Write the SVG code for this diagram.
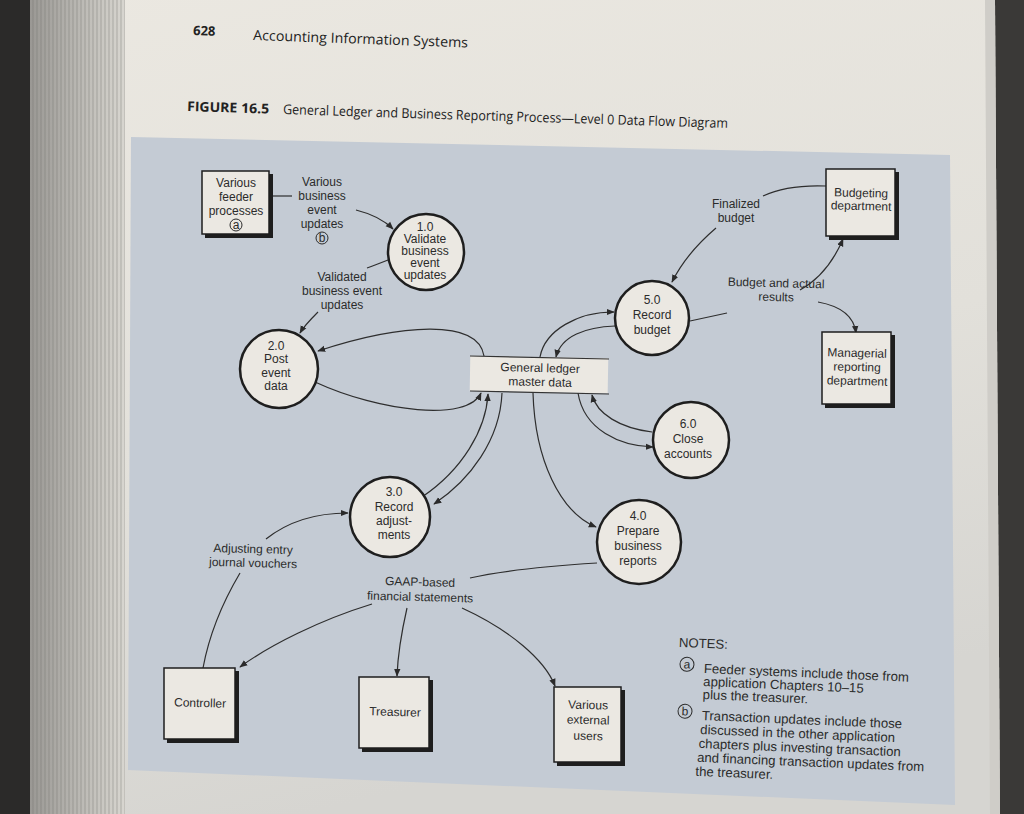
<svg xmlns="http://www.w3.org/2000/svg" width="1024" height="814" viewBox="0 0 1024 814">
<defs>
<linearGradient id="page" x1="0" y1="0" x2="0.3" y2="1">
<stop offset="0" stop-color="#ebe8e1"/>
<stop offset="0.6" stop-color="#e2e0da"/>
<stop offset="1" stop-color="#d6d5d1"/>
</linearGradient>
<linearGradient id="edges" x1="0" y1="0" x2="1" y2="0">
<stop offset="0" stop-color="#9a9894"/>
<stop offset="1" stop-color="#d8d6d0"/>
</linearGradient>
<pattern id="stack" width="4" height="10" patternUnits="userSpaceOnUse">
<rect width="4" height="10" fill="none"/>
<line x1="1" y1="0" x2="1" y2="10" stroke="#6d6b68" stroke-width="0.8" opacity="0.5"/>
</pattern>
<marker id="ah" viewBox="0 0 10 10" refX="9" refY="5" markerWidth="8" markerHeight="8" markerUnits="userSpaceOnUse" orient="auto">
<path d="M0,1 L10,5 L0,9 z" fill="#2a2a2a"/>
</marker>
</defs>
<style>
.t{font-family:"Liberation Sans",Arial,sans-serif;font-size:12px;fill:#2b2b2b;text-anchor:middle}
.h{font-family:"Open Sans","Noto Sans",sans-serif;fill:#222}
.n{font-family:"Liberation Sans",Arial,sans-serif;font-size:13.2px;fill:#2b2b2b}
.proc{fill:#ebe8e2;stroke:#1e1e1e;stroke-width:2.5}
.box{fill:#ebe8e2;stroke:#1e1e1e;stroke-width:1.5}
.shadow{fill:#1e1e1e}
.c{fill:none;stroke:#2e2e2e;stroke-width:1.2}
.ca{fill:none;stroke:#2e2e2e;stroke-width:1.2;marker-end:url(#ah)}
.circ{fill:none;stroke:#2b2b2b;stroke-width:1}
</style>

<!-- page background -->
<rect width="1024" height="814" fill="url(#page)"/>
<rect x="0" y="0" width="30" height="814" fill="#2b2a29"/>
<rect x="30" y="0" width="95" height="814" fill="url(#edges)"/>
<rect x="30" y="0" width="95" height="814" fill="url(#stack)"/>
<polygon points="995,0 1024,0 1024,814 1000,814" fill="#3a3937"/>
<polygon points="985,0 995,0 1000,814 990,814" fill="#cfcdc8"/>

<!-- header -->
<text class="h" x="193" y="35" font-size="13" font-weight="bold" transform="rotate(2 193 35)">628</text>
<text class="h" x="253" y="40" font-size="14" textLength="215" lengthAdjust="spacingAndGlyphs" transform="rotate(2 253 40)">Accounting Information Systems</text>
<text class="h" x="187" y="111" font-size="13.5" font-weight="bold" textLength="82" lengthAdjust="spacingAndGlyphs" transform="rotate(1.8 187 111)">FIGURE 16.5</text>
<text class="h" x="283" y="114" font-size="13.5" textLength="445" lengthAdjust="spacingAndGlyphs" transform="rotate(1.8 283 114)">General Ledger and Business Reporting Process—Level 0 Data Flow Diagram</text>

<!-- panel -->
<polygon points="131,137 950,155 955,805 128,770" fill="#c4cbd4"/>

<!-- connectors -->
<g id="connectors">
<path class="c" d="M270,196 L292,196"/>
<path class="ca" d="M356,210 C372,214 384,220 393,229"/>
<path class="c" d="M388,260 C380,263 373,266 367,268"/>
<path class="ca" d="M318,312 C310,320 304,326 300,333"/>
<path class="ca" d="M484,356 C478,318 400,324 318,351"/>
<path class="ca" d="M315,382 C380,412 468,422 481,393"/>
<path class="ca" d="M540,357 C545,330 578,312 614,312"/>
<path class="ca" d="M615,326 C586,327 561,336 556,357"/>
<path class="c" d="M826,186 C800,185 780,188 763,196"/>
<path class="ca" d="M716,228 C696,245 682,262 672,282"/>
<path class="c" d="M690,321 L727,313"/>
<path class="ca" d="M800,290 C818,280 832,265 843,239"/>
<path class="ca" d="M818,302 C840,306 854,316 856,333"/>
<path class="ca" d="M578,393 C584,430 620,446 653,447"/>
<path class="ca" d="M652,432 C620,428 597,414 592,395"/>
<path class="ca" d="M422,497 C462,470 486,430 488,394"/>
<path class="ca" d="M502,393 C500,440 470,480 434,504"/>
<path class="ca" d="M533,393 C535,460 560,512 596,527"/>
<path class="ca" d="M266,539 C290,520 318,513 348,513"/>
<path class="c" d="M203,668 C210,630 224,600 240,573"/>
<path class="c" d="M597,563 C550,566 500,571 470,578"/>
<path class="ca" d="M372,604 C320,620 270,645 240,667"/>
<path class="ca" d="M407,608 C402,630 398,650 397,676"/>
<path class="ca" d="M462,608 C510,630 545,660 555,686"/>
</g>

<!-- external entities -->
<g id="feeder">
<rect class="shadow" x="205" y="174" width="68" height="64"/>
<rect class="box" x="202" y="171" width="67" height="63"/>
<text class="t" x="236" y="187">Various</text>
<text class="t" x="236" y="201">feeder</text>
<text class="t" x="236" y="215">processes</text>
<circle class="circ" cx="236" cy="225" r="6"/>
<text class="t" x="236" y="229" font-size="10">a</text>
</g>
<g id="budgeting">
<rect class="shadow" x="829" y="172" width="70" height="68"/>
<rect class="box" x="826" y="169" width="69" height="67"/>
<text class="t" x="861" y="197" transform="rotate(1.5 861 197)">Budgeting</text>
<text class="t" x="861" y="210" transform="rotate(1.5 861 210)">department</text>
</g>
<g id="managerial">
<rect class="shadow" x="825" y="335" width="70" height="73"/>
<rect class="box" x="822" y="332" width="69" height="72"/>
<text class="t" x="857" y="357" transform="rotate(1.5 857 357)">Managerial</text>
<text class="t" x="857" y="371" transform="rotate(1.5 857 371)">reporting</text>
<text class="t" x="857" y="385" transform="rotate(1.5 857 385)">department</text>
</g>
<g id="controller">
<rect class="shadow" x="167" y="671" width="72" height="72"/>
<rect class="box" x="164" y="668" width="71" height="71"/>
<text class="t" x="200" y="707" transform="rotate(1.5 200 707)">Controller</text>
</g>
<g id="treasurer">
<rect class="shadow" x="362" y="680" width="71" height="72"/>
<rect class="box" x="359" y="677" width="70" height="71"/>
<text class="t" x="395" y="716" transform="rotate(1.5 395 716)">Treasurer</text>
</g>
<g id="external">
<rect class="shadow" x="557" y="690" width="68" height="76"/>
<rect class="box" x="554" y="687" width="67" height="75"/>
<text class="t" x="588" y="709" transform="rotate(1.5 588 709)">Various</text>
<text class="t" x="588" y="724" transform="rotate(1.5 588 724)">external</text>
<text class="t" x="588" y="740" transform="rotate(1.5 588 740)">users</text>
</g>

<!-- data store -->
<g id="gl">
<rect x="470" y="357" width="138" height="35" fill="#ebe8e2" transform="rotate(1 539 374)"/>
<line x1="470" y1="356" x2="609" y2="359" stroke="#333" stroke-width="1.2"/>
<line x1="470" y1="391" x2="609" y2="394" stroke="#333" stroke-width="1.2"/>
<text class="t" x="540" y="372" transform="rotate(1.5 540 372)">General ledger</text>
<text class="t" x="540" y="386" transform="rotate(1.5 540 386)">master data</text>
</g>

<!-- processes -->
<g id="p1">
<circle class="proc" cx="426" cy="252" r="38"/>
<text class="t" x="425" y="231" font-size="11">1.0</text>
<text class="t" x="425" y="243" font-size="11">Validate</text>
<text class="t" x="425" y="255" font-size="11">business</text>
<text class="t" x="425" y="267" font-size="11">event</text>
<text class="t" x="425" y="279" font-size="11">updates</text>
</g>
<g id="p2">
<circle class="proc" cx="279" cy="369" r="39"/>
<text class="t" x="276" y="350">2.0</text>
<text class="t" x="276" y="363">Post</text>
<text class="t" x="276" y="377">event</text>
<text class="t" x="276" y="390">data</text>
</g>
<g id="p3">
<circle class="proc" cx="390" cy="517" r="40"/>
<text class="t" x="394" y="496">3.0</text>
<text class="t" x="394" y="511">Record</text>
<text class="t" x="394" y="525">adjust-</text>
<text class="t" x="394" y="539">ments</text>
</g>
<g id="p4">
<circle class="proc" cx="639" cy="542" r="42"/>
<text class="t" x="638" y="520">4.0</text>
<text class="t" x="638" y="535">Prepare</text>
<text class="t" x="638" y="550">business</text>
<text class="t" x="638" y="565">reports</text>
</g>
<g id="p5">
<circle class="proc" cx="652" cy="318" r="37"/>
<text class="t" x="652" y="304">5.0</text>
<text class="t" x="652" y="319">Record</text>
<text class="t" x="652" y="334">budget</text>
</g>
<g id="p6">
<circle class="proc" cx="691" cy="440" r="38"/>
<text class="t" x="688" y="428">6.0</text>
<text class="t" x="688" y="443">Close</text>
<text class="t" x="688" y="458">accounts</text>
</g>

<!-- flow labels -->
<g id="labels">
<text class="t" x="322" y="186">Various</text>
<text class="t" x="322" y="200">business</text>
<text class="t" x="322" y="214">event</text>
<text class="t" x="322" y="228">updates</text>
<circle class="circ" cx="322" cy="238" r="6"/>
<text class="t" x="322" y="242" font-size="10">b</text>
<text class="t" x="342" y="281">Validated</text>
<text class="t" x="342" y="295">business event</text>
<text class="t" x="342" y="309">updates</text>
<text class="t" x="736" y="208">Finalized</text>
<text class="t" x="736" y="222">budget</text>
<text class="t" x="776" y="287" transform="rotate(1.5 776 287)">Budget and actual</text>
<text class="t" x="776" y="301" transform="rotate(1.5 776 301)">results</text>
<text class="t" x="253" y="553" transform="rotate(1.5 253 553)">Adjusting entry</text>
<text class="t" x="253" y="567" transform="rotate(1.5 253 567)">journal vouchers</text>
<text class="t" x="420" y="586" transform="rotate(1.5 420 586)">GAAP-based</text>
<text class="t" x="420" y="601" transform="rotate(1.5 420 601)">financial statements</text>
</g>

<!-- notes -->
<g id="notes" transform="rotate(2.4 680 640)">
<text class="n" x="679" y="647">NOTES:</text>
<circle class="circ" cx="688" cy="664" r="7"/>
<text class="t" x="688" y="668" font-size="11.5">a</text>
<text class="n" x="705" y="672">Feeder systems include those from</text>
<text class="n" x="705" y="685">application Chapters 10–15</text>
<text class="n" x="705" y="698">plus the treasurer.</text>
<circle class="circ" cx="688" cy="711" r="7"/>
<text class="t" x="688" y="715" font-size="11.5">b</text>
<text class="n" x="705" y="719">Transaction updates include those</text>
<text class="n" x="704" y="733">discussed in the other application</text>
<text class="n" x="703" y="747">chapters plus investing transaction</text>
<text class="n" x="702" y="761">and financing transaction updates from</text>
<text class="n" x="701" y="775">the treasurer.</text>
</g>
</svg>
